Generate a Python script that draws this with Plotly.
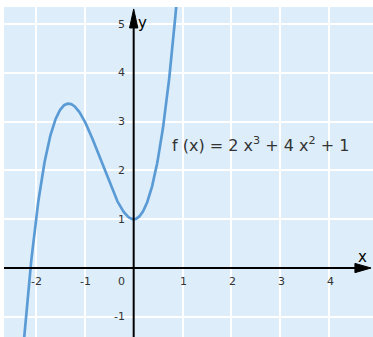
import numpy as np
import plotly.graph_objects as go

# f(x) = 2x^3 + 4x^2 + 1, coefficients highest power first
coeffs = [2, 4, 0, 1]
x_ticks = [-2, -1, 1, 2, 3, 4]
y_ticks = [-1, 1, 2, 3, 4, 5]
x_range = [-2.655, 4.90]
y_range = [-1.414, 5.35]

xs = np.linspace(-2.4, 0.95, 400)
ys = np.polyval(coeffs, xs)

curve_color = "rgb(91,155,213)"
bg_color = "rgb(221,238,250)"
text_color = "#333333"
font_family = "DejaVu Sans"

fig = go.Figure()
fig.add_trace(go.Scatter(x=xs, y=ys, mode="lines",
                         line=dict(color=curve_color, width=2.7),
                         hoverinfo="skip", showlegend=False))

shapes = [
    # x axis with arrow head
    dict(type="line", xref="x", yref="y", x0=x_range[0], x1=4.6, y0=0, y1=0,
         line=dict(color="black", width=2)),
    dict(type="path", xref="x", yref="y",
         path="M 4.53,-0.095 L 4.86,0 L 4.53,0.095 Z",
         fillcolor="black", line=dict(color="black", width=1)),
    # y axis with arrow head
    dict(type="line", xref="x", yref="y", x0=0, x1=0, y0=y_range[0], y1=5.0,
         line=dict(color="black", width=2)),
    dict(type="path", xref="x", yref="y",
         path="M -0.085,4.92 L 0,5.31 L 0.085,4.92 Z",
         fillcolor="black", line=dict(color="black", width=1)),
]

tick_font = dict(size=11, color=text_color, family=font_family)
annotations = []
for t in x_ticks:
    annotations.append(dict(x=t, y=0, xref="x", yref="y", text=str(t),
                            showarrow=False, xanchor="center", yanchor="middle",
                            xshift=1, yshift=-13, font=tick_font))
annotations.append(dict(x=0, y=0, xref="x", yref="y", text="0", showarrow=False,
                        xanchor="right", yanchor="middle", xshift=-7, yshift=-13,
                        font=tick_font))
for t in y_ticks:
    annotations.append(dict(x=0, y=t, xref="x", yref="y", text=str(t),
                            showarrow=False, xanchor="right", yanchor="middle",
                            xshift=-7, font=tick_font))
annotations += [
    dict(x=4.69, y=0.22, xref="x", yref="y", text="x", showarrow=False,
         font=dict(size=15, color="black", family=font_family)),
    dict(x=0.05, y=5.03, xref="x", yref="y", text="y", showarrow=False, xanchor="left",
         font=dict(size=15, color="black", family=font_family)),
    dict(x=0.75, y=2.54, xref="x", yref="y",
         text="f (x) = 2 x<sup>3</sup> + 4 x<sup>2</sup> + 1",
         showarrow=False, xanchor="left", yanchor="middle",
         font=dict(size=16, color=text_color, family=font_family)),
]

fig.update_layout(
    width=373, height=337,
    margin=dict(l=4, r=0, t=7, b=0),
    paper_bgcolor="white", plot_bgcolor=bg_color,
    shapes=shapes, annotations=annotations,
    xaxis=dict(range=x_range, tickvals=x_ticks, showticklabels=False, ticks="",
               showgrid=True, gridcolor="white", gridwidth=2, zeroline=False, fixedrange=True),
    yaxis=dict(range=y_range, tickvals=y_ticks, showticklabels=False, ticks="",
               showgrid=True, gridcolor="white", gridwidth=2, zeroline=False, fixedrange=True),
)

fig.write_html("out.html")
